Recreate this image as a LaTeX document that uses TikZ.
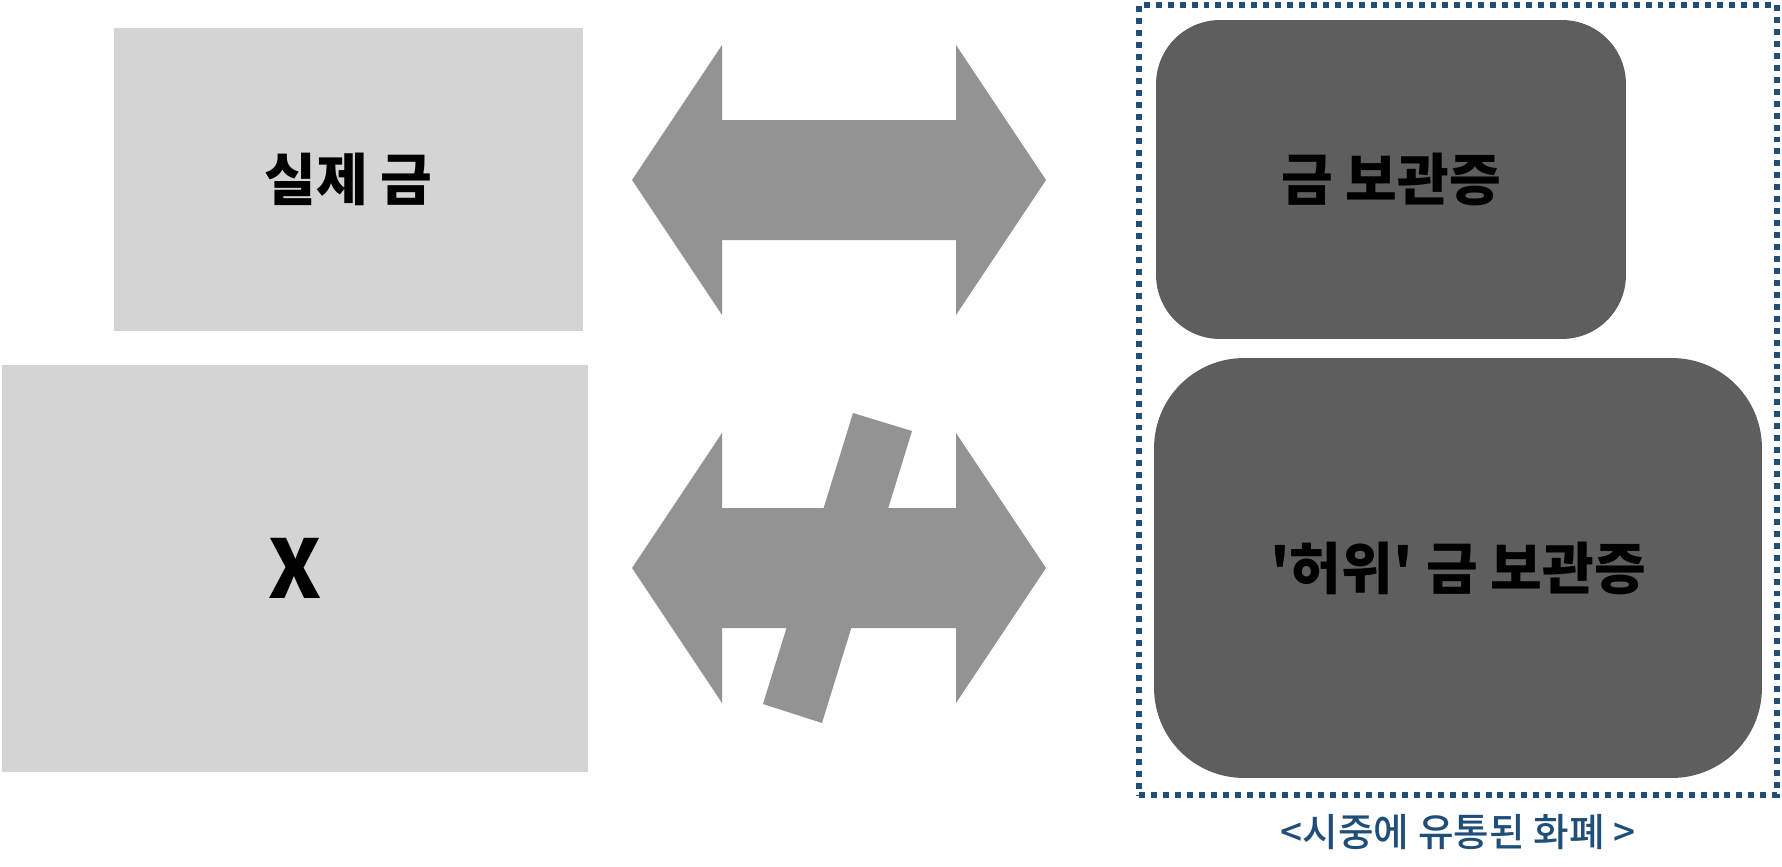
\documentclass[tikz,border=0pt]{standalone}
\usepackage{fontspec}
\setmainfont{Noto Sans CJK KR}
\newfontfamily\captionfont{Noto Sans CJK KR Medium}
\usetikzlibrary{positioning}

\definecolor{boxgray}{HTML}{D4D4D4}
\definecolor{arrowgray}{HTML}{939393}
\definecolor{notegray}{HTML}{5E5E5E}
\definecolor{frameblue}{HTML}{1F4E79}

\tikzset{
	goldbox/.style = {fill = boxgray, inner sep = 0pt, font = \fontsize{32}{36}\selectfont\bfseries},
	notebox/.style = {fill = notegray, inner sep = 0pt, font = \fontsize{32}{36}\selectfont\bfseries},
	marketframe/.style = {draw = frameblue, line width = 3.4pt, dash pattern = on 3.4pt off 3.4pt, inner sep = 0pt}
}

\begin{document}
\begin{tikzpicture}[x = 0.02cm, y = -0.02cm]
					\useasboundingbox (0, 0) rectangle (1782, 866);
					\node [goldbox, minimum width = 9.38cm, minimum height = 6.06cm] (realgold) at (348.5, 179.5) {실제 금};
					\node [goldbox, minimum width = 11.72cm, minimum height = 8.14cm, font = \fontsize{46}{50}\selectfont\bfseries] (nogold) at (295, 568.5) {X};
					\node [marketframe, minimum width = 12.76cm, minimum height = 15.8cm] (market) at (1458, 400) {};
					\node [notebox, rounded corners = 1.28cm, minimum width = 9.4cm, minimum height = 6.38cm] (receipt) at (1391, 179.5) {금 보관증};
					\node [notebox, rounded corners = 1.8cm, minimum width = 12.16cm, minimum height = 8.4cm] (fakereceipt) at (1458, 568) {\textquotesingle 허위\textquotesingle{} 금 보관증};
					\node [text = frameblue, font = \fontsize{22}{26}\selectfont\captionfont] (caption) at (1458, 832) {<시중에 유통된 화폐 >};
					\foreach \yc in {180, 568} {
						\fill [arrowgray] (632, \yc) -- (722, \yc - 135) -- (722, \yc - 60) -- (956, \yc - 60) -- (956, \yc - 135) -- (1046, \yc)
							-- (956, \yc + 135) -- (956, \yc + 60) -- (722, \yc + 60) -- (722, \yc + 135) -- cycle;
					}
					\fill [arrowgray] (853, 413) -- (912, 431) -- (822, 723) -- (763, 704) -- cycle;
				\end{tikzpicture}
\end{document}
